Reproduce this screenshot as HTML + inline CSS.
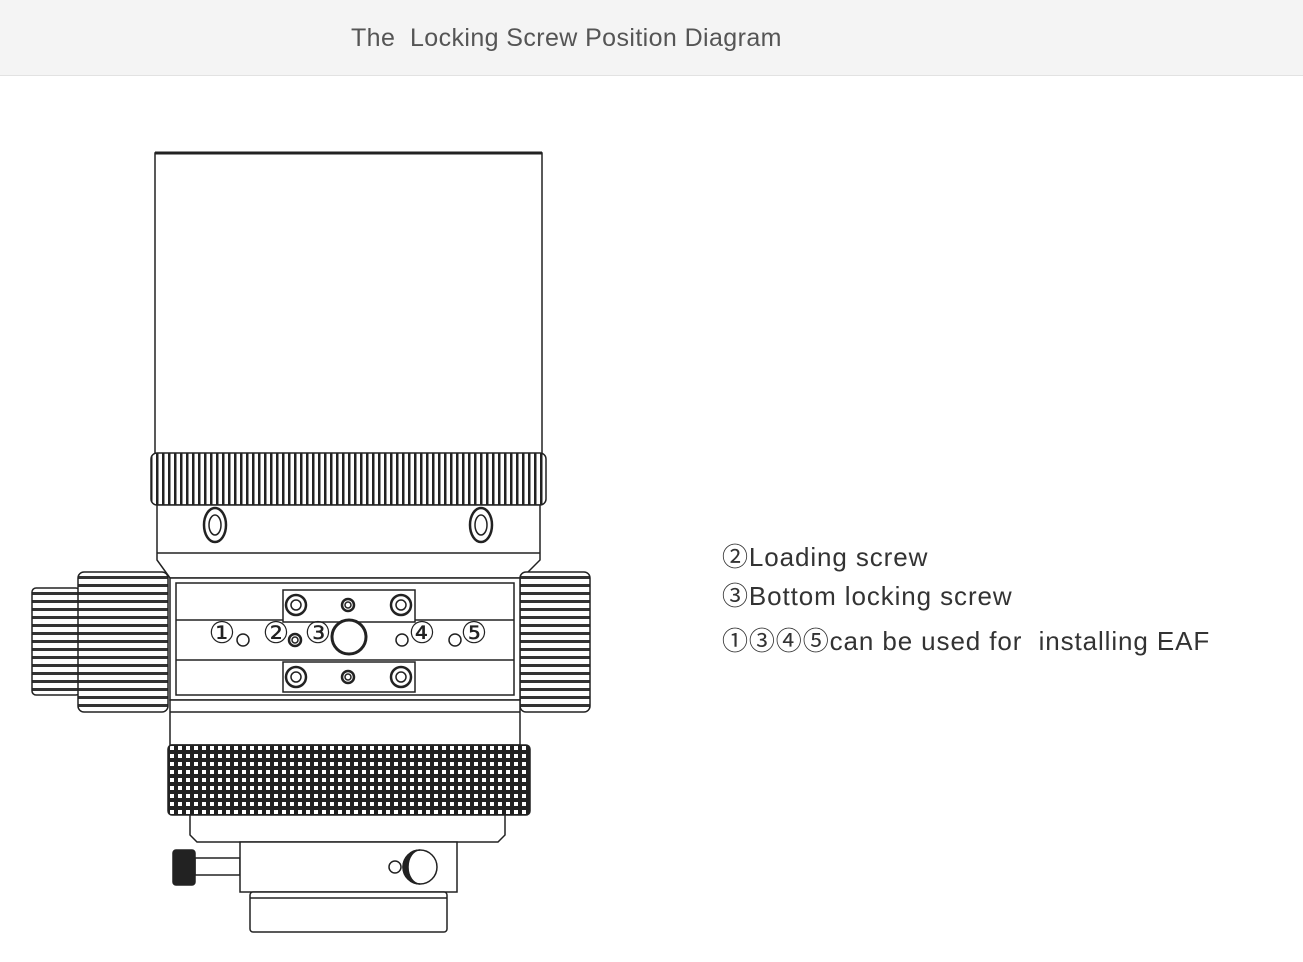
<!DOCTYPE html>
<html><head><meta charset="utf-8"><style>
body{margin:0;width:1303px;height:962px;background:#fff;overflow:hidden;font-family:"Liberation Sans","DejaVu Sans",sans-serif}
.hdr{position:absolute;left:0;top:0;width:1303px;height:75px;background:#f4f4f4;border-bottom:1px solid #e2e2e2}
.hdr span{position:absolute;left:351px;top:24px;font-size:25px;color:#555;letter-spacing:0.4px}
.t{position:absolute;left:722px;font-size:26px;color:#333;letter-spacing:0.9px;font-family:"Liberation Sans","Noto Sans CJK SC",sans-serif}
</style></head><body>
<div class="hdr"><span>The&nbsp; Locking Screw Position Diagram</span></div>
<svg width="1303" height="962" style="position:absolute;left:0;top:0" xmlns="http://www.w3.org/2000/svg">
<defs>
<pattern id="vs" width="6" height="10" patternUnits="userSpaceOnUse"><rect width="6" height="10" fill="#fff"/><rect width="2.5" height="10" fill="#222"/></pattern>
<pattern id="hs" width="10" height="8" patternUnits="userSpaceOnUse"><rect width="10" height="8" fill="#fff"/><rect width="10" height="3" fill="#333"/></pattern>
<pattern id="kn" width="8" height="8" patternUnits="userSpaceOnUse"><rect width="8" height="8" fill="#fff"/><path d="M0 0H8V8H0Z M2 2H6V6H2Z" fill="#222" fill-rule="evenodd"/></pattern>
</defs>
<g stroke="#222" stroke-width="1.5" fill="#fff">
<rect x="155" y="153" width="387" height="302"/>
<line x1="155" y1="153" x2="542" y2="153" stroke-width="3"/>
<rect x="151" y="453" width="395" height="52" rx="6" fill="url(#vs)"/>
<path d="M157 505 L540 505 L540 560 L522 578 L170 578 L157 560 Z"/>
<line x1="157" y1="553" x2="540" y2="553"/>
<ellipse cx="215" cy="525" rx="11" ry="17" stroke-width="2.5"/><ellipse cx="215" cy="525" rx="6" ry="10"/>
<ellipse cx="481" cy="525" rx="11" ry="17" stroke-width="2.5"/><ellipse cx="481" cy="525" rx="6" ry="10"/>
<rect x="32" y="588" width="48" height="107" rx="4" fill="url(#hs)"/>
<rect x="78" y="572" width="90" height="140" rx="6" fill="url(#hs)"/>
<rect x="520" y="572" width="70" height="140" rx="6" fill="url(#hs)"/>
<rect x="170" y="578" width="350" height="122"/>
<rect x="176" y="583" width="338" height="112"/>
<line x1="176" y1="620" x2="514" y2="620"/>
<line x1="176" y1="660" x2="514" y2="660"/>
<rect x="283" y="590" width="132" height="32"/>
<rect x="283" y="662" width="132" height="30"/>
<circle cx="296" cy="605" r="10" stroke-width="2.5"/><circle cx="296" cy="605" r="5"/>
<circle cx="401" cy="605" r="10" stroke-width="2.5"/><circle cx="401" cy="605" r="5"/>
<circle cx="348" cy="605" r="6" stroke-width="2.5"/><circle cx="348" cy="605" r="3"/>
<circle cx="296" cy="677" r="10" stroke-width="2.5"/><circle cx="296" cy="677" r="5"/>
<circle cx="401" cy="677" r="10" stroke-width="2.5"/><circle cx="401" cy="677" r="5"/>
<circle cx="348" cy="677" r="6" stroke-width="2.5"/><circle cx="348" cy="677" r="3"/>
<circle cx="243" cy="640" r="6"/><circle cx="295" cy="640" r="6" stroke-width="2.5"/><circle cx="295" cy="640" r="3"/>
<circle cx="349" cy="637" r="17" stroke-width="3"/>
<circle cx="402" cy="640" r="6"/><circle cx="455" cy="640" r="6"/>
<rect x="170" y="700" width="350" height="45"/>
<line x1="170" y1="712" x2="520" y2="712"/>
<rect x="168" y="745" width="362" height="70" rx="4" fill="url(#kn)"/>
<path d="M190 815 L505 815 L505 835 L498 842 L197 842 L190 835 Z"/>
<rect x="195" y="858" width="45" height="17"/>
<rect x="173" y="850" width="22" height="35" rx="3" fill="#222"/>
<rect x="240" y="842" width="217" height="50"/>
<circle cx="395" cy="867" r="6"/>
<circle cx="420" cy="867" r="17"/>
<path d="M420 850 A17 17 0 0 0 420 884 A12 17 0 0 1 420 850Z" fill="#222"/>
<rect x="250" y="892" width="197" height="40" rx="3"/>
<line x1="250" y1="898" x2="447" y2="898"/>
</g>
<g font-family="DejaVu Sans,sans-serif" font-size="30" fill="#222" text-anchor="middle">
<text x="222" y="643">①</text><text x="276" y="643">②</text><text x="318" y="643">③</text><text x="422" y="643">④</text><text x="474" y="643">⑤</text>
</g>
</svg>
<div class="t" style="top:537px">②Loading screw</div>
<div class="t" style="top:576px">③Bottom locking screw</div>
<div class="t" style="top:621px">①③④⑤can be used for&nbsp; installing EAF</div>
</body></html>
